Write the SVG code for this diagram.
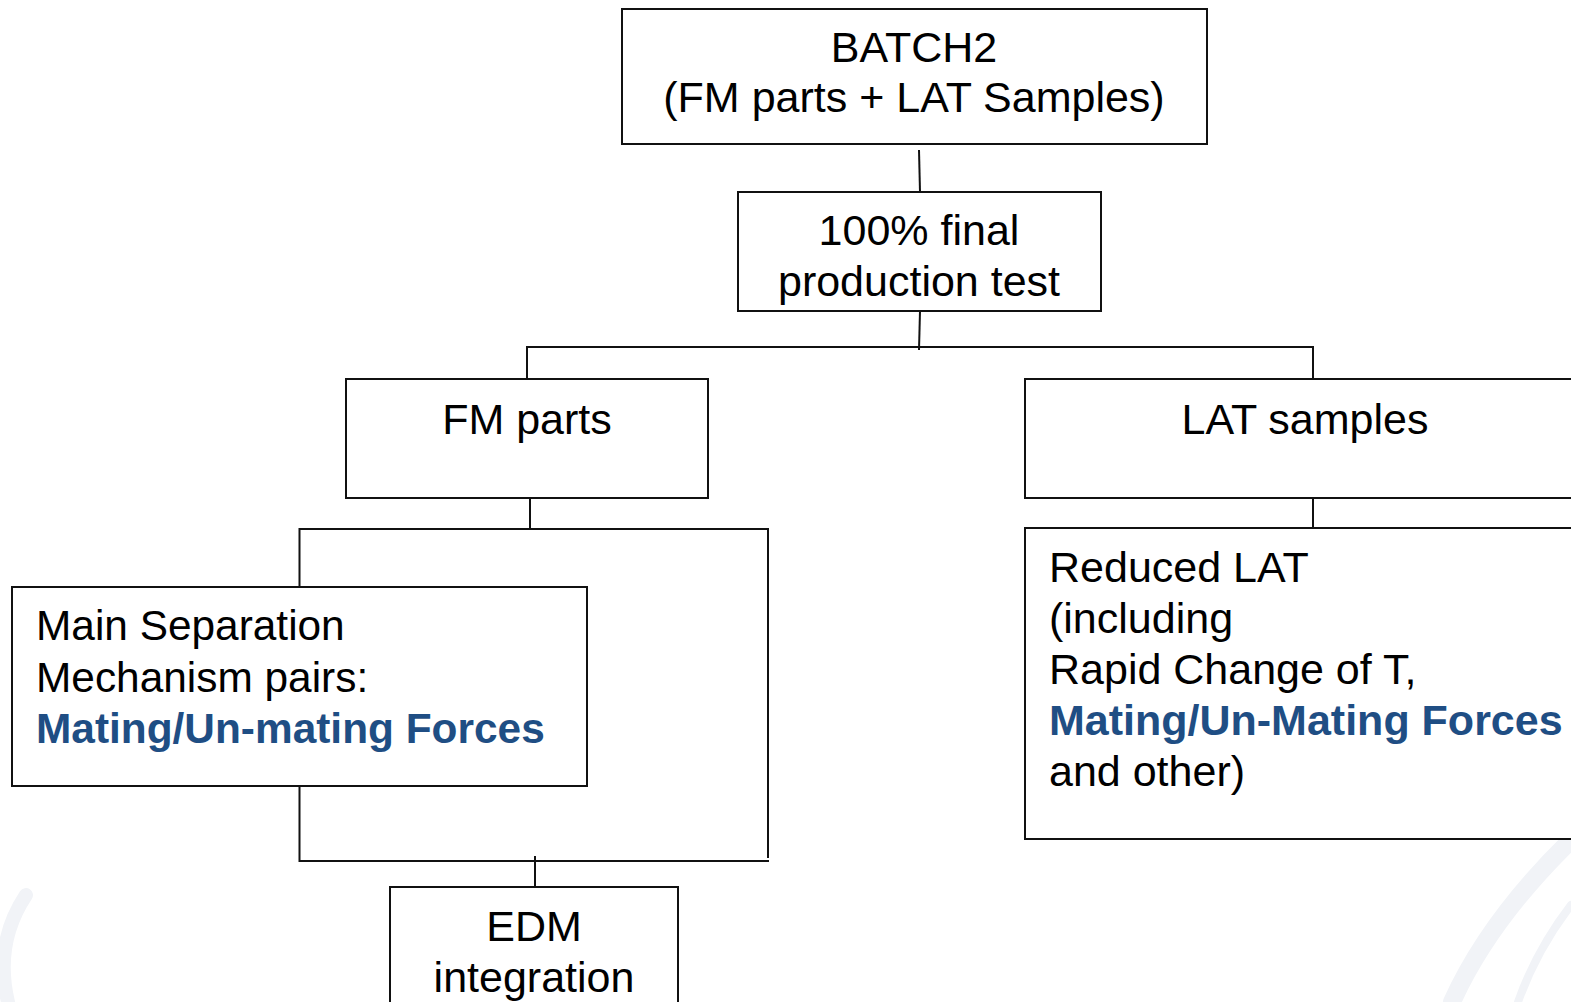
<svg xmlns="http://www.w3.org/2000/svg" width="1571" height="1002" viewBox="0 0 1571 1002">
<style>
  .box { fill: #ffffff; stroke: #111111; stroke-width: 2; }
  .conn { fill: none; stroke: #111111; stroke-width: 2; }
  .t { font-family: "Liberation Sans", Arial, sans-serif; font-size: 43px; fill: #000000; }
  .s { font-size: 42.4px; }
  .c { text-anchor: middle; }
  .hl { font-weight: bold; fill: #1F4E84; }
  .bg { fill: none; stroke: #f1f3f7; stroke-linecap: round; }
</style>
<rect x="0" y="0" width="1571" height="1002" fill="#ffffff"/>
<g id="background">
  <path class="bg" d="M 1571 840 C 1525 885 1480 940 1452 1002" stroke-width="18"/>
  <path class="bg" d="M 1571 905 C 1548 935 1530 968 1518 1002" stroke-width="8"/>
  <path class="bg" d="M 26 895 C 6 925 -2 960 8 1002" stroke-width="14"/>
</g>
<g id="connectors">
  <line class="conn" x1="919" y1="150" x2="920" y2="192"/>
  <line class="conn" x1="920" y1="311" x2="919" y2="350"/>
  <polyline class="conn" points="527,379 527,347 1313,347 1313,379"/>
  <line class="conn" x1="530" y1="498" x2="530" y2="529"/>
  <polyline class="conn" points="299.5,588 299.5,529 768,529 768,858"/>
  <polyline class="conn" points="299.5,786 299.5,861 769,861"/>
  <line class="conn" x1="535" y1="856" x2="535" y2="887"/>
  <line class="conn" x1="1313" y1="498" x2="1313" y2="528"/>
</g>
<g id="batch2">
  <rect class="box" x="622" y="9" width="585" height="135"/>
  <text class="t c" x="914" y="62">BATCH2</text>
  <text class="t c" x="914" y="112">(FM parts + LAT Samples)</text>
</g>
<g id="final-test">
  <rect class="box" x="738" y="192" width="363" height="119"/>
  <text class="t c" x="919" y="245">100% final</text>
  <text class="t c" x="919" y="296">production test</text>
</g>
<g id="fm-parts">
  <rect class="box" x="346" y="379" width="362" height="119"/>
  <text class="t c" x="527" y="434">FM parts</text>
</g>
<g id="lat-samples">
  <rect class="box" x="1025" y="379" width="560" height="119"/>
  <text class="t c" x="1305" y="434">LAT samples</text>
</g>
<g id="main-separation">
  <rect class="box" x="12" y="587" width="575" height="199"/>
  <text class="t s" x="36" y="640">Main Separation</text>
  <text class="t s" x="36" y="692">Mechanism pairs:</text>
  <text class="t s hl" x="36" y="743">Mating/Un-mating Forces</text>
</g>
<g id="reduced-lat">
  <rect class="box" x="1025" y="528" width="560" height="311"/>
  <text class="t" x="1049" y="582">Reduced LAT</text>
  <text class="t" x="1049" y="633">(including</text>
  <text class="t" x="1049" y="684">Rapid Change of T,</text>
  <text class="t hl" x="1049" y="735">Mating/Un-Mating Forces</text>
  <text class="t" x="1049" y="786">and other)</text>
</g>
<g id="edm">
  <rect class="box" x="390" y="887" width="288" height="130"/>
  <text class="t c" x="534" y="941">EDM</text>
  <text class="t c" x="534" y="992">integration</text>
</g>
</svg>
